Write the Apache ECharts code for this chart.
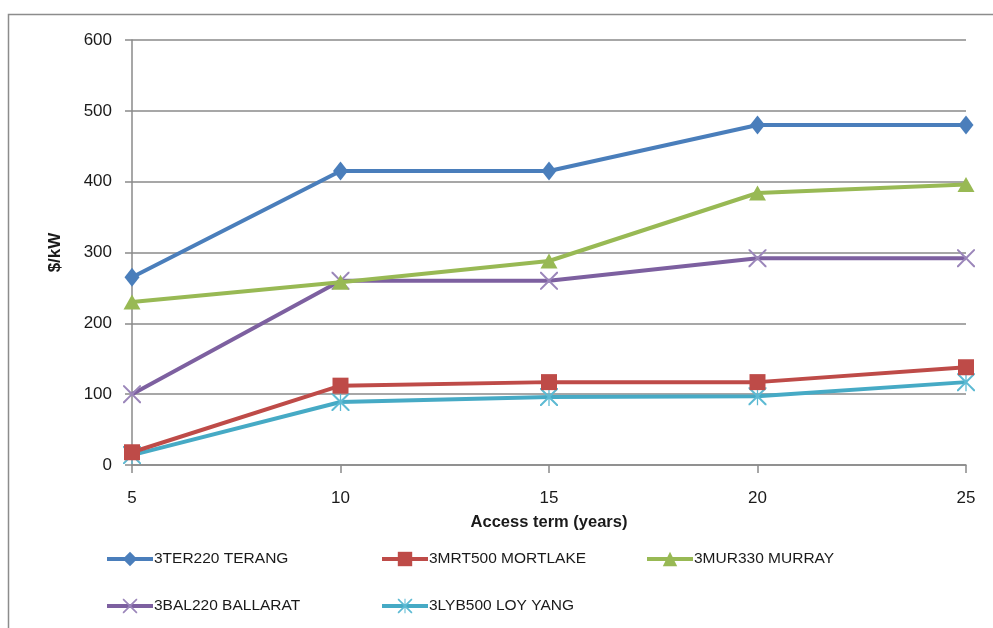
<!DOCTYPE html>
<html>
<head>
<meta charset="utf-8">
<script src="https://cdn.jsdelivr.net/npm/echarts@6/dist/echarts.min.js"></script>
<style>
  html, body { margin: 0; padding: 0; background: #fff; }
  #chart { width: 993px; height: 628px; }
</style>
</head>
<body>
<div id="chart"></div>
<script>
// Access term (years) on the x axis
const terms = [5, 10, 15, 20, 25];

// $/kW by connection point
const teraNg = [265, 415, 415, 480, 480];
const mortlake = [18, 112, 117, 117, 138];
const murray = [230, 258, 288, 384, 396];
const ballarat = [100, 260, 260, 292, 292];
const loyYang = [14, 89, 96, 97, 117];

const seriesNames = [
  '3TER220 TERANG',
  '3MRT500 MORTLAKE',
  '3MUR330 MURRAY',
  '3BAL220 BALLARAT',
  '3LYB500 LOY YANG'
];

const yTicks = [0, 100, 200, 300, 400, 500, 600];

const FONT = '"Liberation Sans", "DejaVu Sans", sans-serif';

const crossPath = 'path://M0 0L1.6 0L10 8.4L18.4 0L20 0L20 1.6L11.6 10L20 18.4L20 20L18.4 20L10 11.6L1.6 20L0 20L0 18.4L8.4 10L0 1.6Z';
const starPath = 'path://M0 0L1.6 0L10 8.4L18.4 0L20 0L20 1.6L11.6 10L20 18.4L20 20L18.4 20L10 11.6L1.6 20L0 20L0 18.4L8.4 10L0 1.6Z M9.3 0L10.7 0L10.7 20L9.3 20Z';

function pairs(vals) {
  return terms.map((t, i) => [t, vals[i]]);
}

const defs = [
  { data: teraNg, color: '#4A7EBB', symbol: 'diamond', size: [15, 19], symColor: '#4A7EBB' },
  { data: mortlake, color: '#BE4B48', symbol: 'rect', size: 16, symColor: '#BE4B48' },
  { data: murray, color: '#98B954', symbol: 'triangle', size: [17, 15], symColor: '#98B954' },
  { data: ballarat, color: '#7D60A0', symbol: crossPath, size: 18, symColor: '#9B86BA' },
  { data: loyYang, color: '#46AAC5', symbol: starPath, size: 18, symColor: '#5DBAD3' }
];

const series = defs.map((d, i) => ({
  name: seriesNames[i],
  type: 'line',
  data: pairs(d.data),
  symbol: d.symbol,
  symbolSize: d.size,
  showAllSymbol: true,
  lineStyle: { color: d.color, width: 4 },
  itemStyle: { color: d.symColor },
  emphasis: { disabled: true },
  z: 10 - i
}));

// Legend items placed in two rows
const legendPos = [
  { left: 100, top: 546 },
  { left: 375, top: 546 },
  { left: 640, top: 546 },
  { left: 100, top: 593 },
  { left: 375, top: 593 }
];

const legends = seriesNames.map((n, i) => ({
  data: [n],
  left: legendPos[i].left,
  top: legendPos[i].top,
  itemWidth: 46,
  itemHeight: 18,
  itemGap: 2,
  selectedMode: false,
  lineStyle: { width: 4 },
  textStyle: { fontFamily: FONT, fontSize: 15.5, color: '#1a1a1a', padding: [0, 0, 0, -4] }
}));

const chart = echarts.init(document.getElementById('chart'), null, { renderer: 'canvas' });

chart.setOption({
  animation: false,
  backgroundColor: '#ffffff',
  graphic: [{
    type: 'rect',
    shape: { x: 8.5, y: 14.5, width: 1000, height: 700 },
    style: { fill: 'none', stroke: '#8c8c8c', lineWidth: 1.5 },
    z: -1
  }],
  grid: { left: 132, right: 27, top: 40, bottom: 163 },
  legend: legends,
  xAxis: {
    type: 'value',
    min: 5,
    max: 25,
    interval: 5,
    name: 'Access term (years)',
    nameLocation: 'middle',
    nameGap: 49,
    nameTextStyle: { fontFamily: FONT, fontSize: 16.5, fontWeight: 'bold', color: '#1a1a1a' },
    axisLine: { lineStyle: { color: '#8a8a8a', width: 1.5 } },
    axisTick: { show: true, length: 8, lineStyle: { color: '#8a8a8a', width: 1.5 } },
    axisLabel: { fontFamily: FONT, fontSize: 17, color: '#1a1a1a', margin: 25 },
    splitLine: { show: false }
  },
  yAxis: {
    type: 'value',
    min: yTicks[0],
    max: yTicks[yTicks.length - 1],
    interval: 100,
    name: '$/kW',
    nameLocation: 'middle',
    nameGap: 68,
    nameRotate: 90,
    nameTextStyle: { fontFamily: FONT, fontSize: 17, fontWeight: 'bold', color: '#1a1a1a' },
    axisLine: { show: true, lineStyle: { color: '#8a8a8a', width: 1.5 } },
    axisTick: { show: true, length: 7, lineStyle: { color: '#8a8a8a', width: 1.5 } },
    axisLabel: { fontFamily: FONT, fontSize: 17, color: '#1a1a1a', margin: 20 },
    splitLine: { show: true, lineStyle: { color: '#8a8a8a', width: 1.5 } }
  },
  series: series
});
</script>
</body>
</html>
